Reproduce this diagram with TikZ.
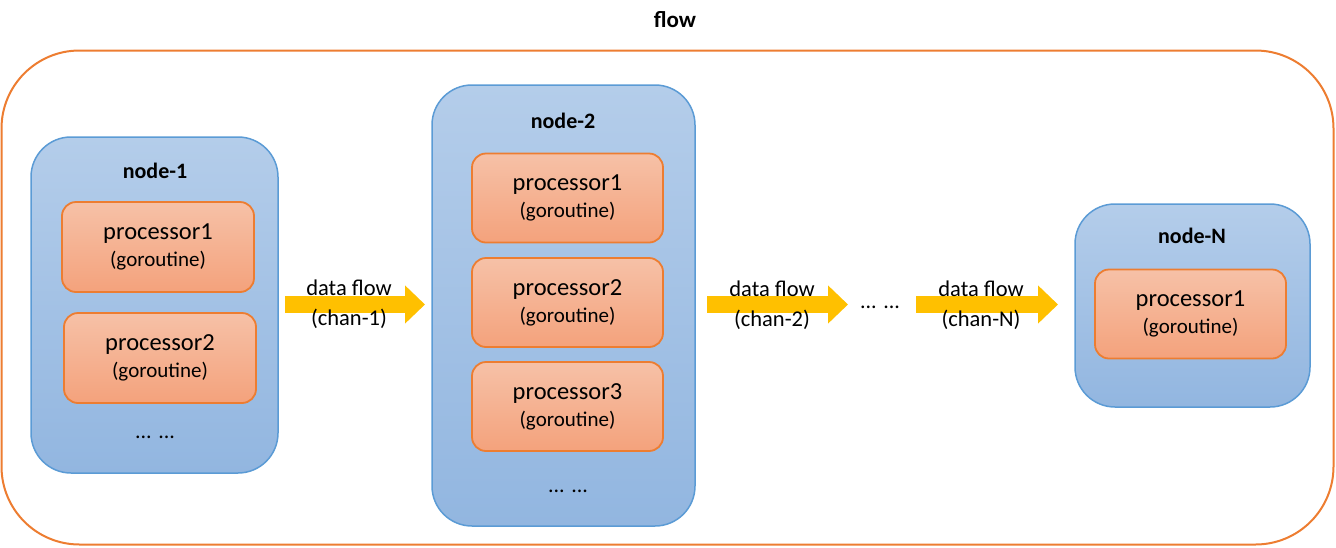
\documentclass[tikz,border=0pt]{standalone}
\usepackage{fontspec}
\setmainfont{Carlito}
\usetikzlibrary{arrows.meta}
\definecolor{outerorange}{HTML}{ED7D31}
\definecolor{bluetop}{HTML}{B4CDEA}
\definecolor{bluebot}{HTML}{92B6E0}
\definecolor{blueline}{HTML}{5B9BD5}
\definecolor{proctop}{HTML}{F6C1A7}
\definecolor{procbot}{HTML}{F4A27C}
\definecolor{flowyellow}{HTML}{FFC000}
\newcommand{\gor}{{\fontsize{21}{27}\selectfont (goroutine)}}
\begin{document}
\begin{tikzpicture}[x=1pt,y=-1pt,
  outer/.style={draw=outerorange, line width=2pt, rounded corners=78pt, minimum width=1332pt, minimum height=494pt, inner sep=0pt},
  container/.style={draw=blueline, line width=1.5pt, top color=bluetop, bottom color=bluebot, rounded corners=40pt, inner sep=0pt},
  proc/.style={draw=outerorange, line width=1.8pt, top color=proctop, bottom color=procbot, rounded corners=14pt, minimum width=191pt, minimum height=89pt, inner sep=0pt, align=center, font=\fontsize{24.5}{27}\selectfont},
  ttl/.style={font=\bfseries\fontsize{22}{26}\selectfont},
  dots/.style={font=\fontsize{22}{26}\selectfont},
  flowlabel/.style={align=center, font=\fontsize{22.5}{30}\selectfont},
  flowarrow/.style={draw=flowyellow, line width=17pt, -{Triangle[length=20pt,width=37pt]}}
]
\useasboundingbox (0,0) rectangle (1336,547);
\node[outer] (flowbox) at (667.5,297.5) {};
\node[font=\bfseries\fontsize{23}{27}\selectfont] (flowtitle) at (675,20) {flow};

% node-1
\node[container, minimum width=247pt, minimum height=336pt] (n1) at (154.5,305) {};
\node[ttl] (n1t) at (155,171) {node-1};
\node[proc, minimum width=192pt, minimum height=90pt] (n1p1) at (158,247) {processor1\\\gor};
\node[proc, minimum width=192pt, minimum height=90pt] (n1p2) at (160,358) {processor2\\\gor};
\node[dots] (n1d) at (155,437) {... ...};

% node-2
\node[container, minimum width=263pt, minimum height=441pt] (n2) at (563.5,305.5) {};
\node[ttl] (n2t) at (563,121) {node-2};
\node[proc] (n2p1) at (567.5,198) {processor1\\\gor};
\node[proc] (n2p2) at (567.5,302.5) {processor2\\\gor};
\node[proc] (n2p3) at (567.5,406.5) {processor3\\\gor};
\node[dots] (n2d) at (568,491) {... ...};

% node-N
\node[container, minimum width=235pt, minimum height=203pt] (nN) at (1192.5,305.5) {};
\node[ttl] (nNt) at (1192,236) {node-N};
\node[proc] (nNp1) at (1190.5,314) {processor1\\\gor};

% arrows
\coordinate (a1s) at (285,304.5);
\coordinate (a1e) at (425,304.5);
\coordinate (a2s) at (707,304.5);
\coordinate (a2e) at (848,304.5);
\coordinate (a3s) at (916,304.5);
\coordinate (a3e) at (1058,304.5);
\draw[flowarrow] (a1s) -- (a1e);
\draw[flowarrow] (a2s) -- (a2e);
\draw[flowarrow] (a3s) -- (a3e);
\node[flowlabel] (l1) at (349,304) {data flow\\(chan-1)};
\node[flowlabel] (l2) at (772,305) {data flow\\(chan-2)};
\node[flowlabel] (l3) at (981,305) {data flow\\(chan-N)};
\node[dots] (mid) at (880,307) {... ...};
\end{tikzpicture}
\end{document}
